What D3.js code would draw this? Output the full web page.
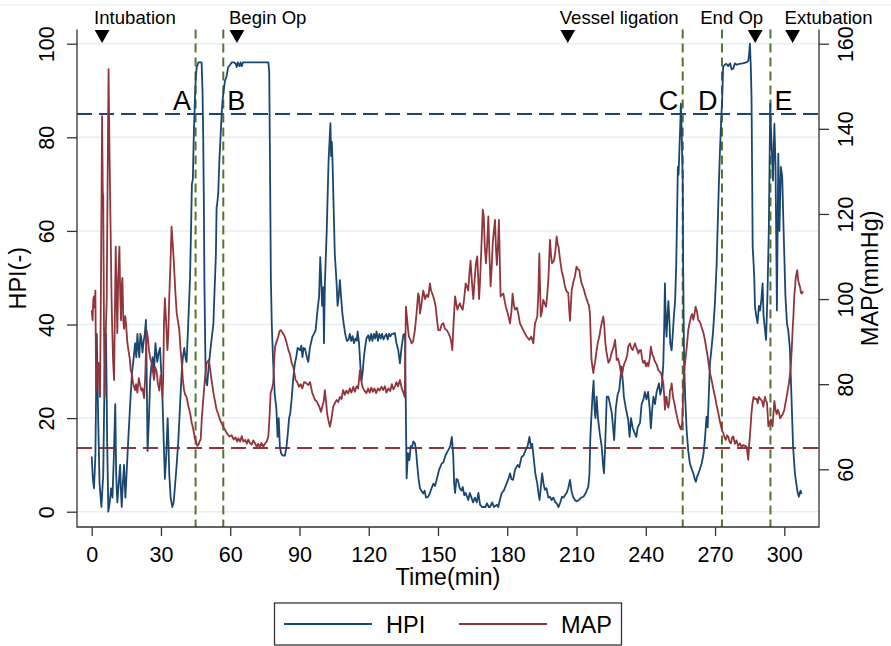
<!DOCTYPE html>
<html>
<head>
<meta charset="utf-8">
<script src="https://cdn.jsdelivr.net/npm/d3@7"></script>
<style>
	body { margin: 0; background: #fff; }
	svg { display: block; font-family: "Liberation Sans", Arial, sans-serif; }
</style>
</head>
<body>
<svg width="891" height="646"></svg>
<script>
// tick values
var xTicks = [0, 30, 60, 90, 120, 150, 180, 210, 240, 270, 300];
var hpiTicks = [0, 20, 40, 60, 80, 100];
var mapTicks = [60, 80, 100, 120, 140, 160];

// thresholds
var hpiThreshold = 85;
var mapThreshold = 65;

// phases A-E (min)
var phaseTimes = [45, 57, 256, 273, 294];
var phaseLabels = ["A", "B", "C", "D", "E"];

// clinical events (min)
var eventTimes = [4.5, 62.9, 206.2, 287.4, 303.6];
var eventLabels = ["Intubation", "Begin Op", "Vessel ligation", "End Op", "Extubation"];
var eventLevel = 102;

// HPI [time(min), value]
var hpi = [[0,11.8],[0.5,7],[1,5],[1.6,12],[2.2,38],[2.8,20],[3.4,6],[4.2,1],[5,8],[5.6,30],[6.2,38],[6.7,15],[7.2,0],[7.8,2],[8.4,5],[9,3],[9.6,12],[10.2,23],[10.6,8],[11.1,2],[11.7,6],[12.3,10],[12.7,4],[13,1],[13.5,6],[14,10],[14.6,3],[15.2,9],[15.9,16],[16.9,25],[17.5,30],[18,32],[18.8,36],[19.3,33],[19.8,38],[20.2,35],[20.6,33],[21.1,38],[21.5,37],[22,34],[22.4,36],[23,38],[23.5,41],[23.8,30],[24.2,13],[24.8,20],[25.3,28],[25.8,31],[26.4,33],[27,30],[27.6,36],[28,34],[28.4,32],[29,34],[29.6,35],[30.1,30],[30.6,25],[31.2,15],[31.7,7],[32.3,12],[32.9,20],[33.3,14],[33.6,8],[34.2,3],[34.9,1],[35.5,2],[36,5],[36.8,10],[37.5,15],[38.2,22],[39,30],[39.5,33],[40.1,35],[40.6,33],[41.1,32],[41.8,40],[42.6,50],[43.1,62],[43.4,70],[43.8,71],[44.2,80],[44.7,88],[45.1,93],[45.5,95],[46.2,96],[47,96],[47.6,96],[48,90],[48.3,80],[48.6,65],[48.8,50],[49.1,38],[49.4,28],[50,27],[50.5,30],[51.5,35],[52.2,38],[52.7,40],[53.2,47],[53.8,55],[54.1,65],[54.4,66],[54.8,68],[55.3,75],[55.8,80],[56.3,85],[56.7,88],[57.2,90],[57.7,92],[58.4,93],[59.1,95],[60,95.5],[60.6,96],[61.5,96],[62.3,95.8],[62.8,95],[63.3,96],[64,95.2],[64.5,96],[65,95.2],[65.5,96],[70,96],[76.5,96],[76.9,94],[77.3,70],[77.6,50],[78,40],[78.6,32],[79.3,25],[80,22],[80.5,16],[81,20],[81.5,14],[82,12.5],[82.7,12],[83.7,12],[84.4,14],[85,17],[85.5,20],[86,21],[86.6,24],[87.2,28],[88,31.7],[88.6,33],[89.2,35],[90.2,34.5],[90.8,35.5],[91.3,33],[91.8,35],[92.4,34.8],[93.2,33],[93.8,32],[94.5,35],[95.6,37.4],[96.3,38],[97,38.8],[97.8,43],[98.5,46],[99,54.4],[99.4,50],[99.8,44],[100.3,48],[100.6,36],[101,48.8],[101.8,60],[102.6,75],[103.1,80],[103.4,83],[103.7,76],[104,79],[104.3,75],[104.8,65],[105.3,55],[106,49.5],[106.5,44],[107,46],[107.5,49.5],[108,46],[108.6,42.3],[109.2,40],[109.8,38],[110.5,36.5],[111.2,36.7],[111.8,38],[112.4,36.5],[113,37.5],[113.6,36],[114.2,37],[114.8,36.5],[115.2,38.5],[115.8,36],[116.4,31],[116.9,28],[117.4,30],[117.9,33],[118.4,35],[119,37],[119.8,37.7],[120.4,36.5],[121,38],[121.6,36.5],[122.2,38],[122.8,37],[123.4,38.5],[124,36.5],[124.6,38],[125.2,37],[125.8,38],[126.4,36.8],[127,37.5],[127.6,38],[128.2,36.8],[128.8,38],[129.4,37.5],[130,38],[130.6,38],[131.3,38.2],[132,36],[132.8,34.5],[133.5,31.7],[134.2,35],[135,37.8],[135.7,38],[136,25],[136.4,7.1],[137,12.5],[137.6,11],[138.2,14],[138.8,13.9],[139.3,15],[140,14.6],[140.5,13],[141,10],[141.6,7],[142.2,5],[142.8,4.5],[143.6,3.9],[144.2,4.5],[144.8,3],[145.8,3.2],[146.5,4],[147.2,5],[148,6],[148.7,5.5],[149.4,6.8],[150,8],[150.5,9],[151.6,10.3],[152.3,10.5],[153.2,12],[154.5,13.2],[155.3,14],[156,16],[156.6,12],[157,6],[157.4,4],[158,7],[158.6,6.8],[159.4,5],[160.2,4.5],[160.7,5.3],[161.4,3.5],[162,4],[163.1,2.5],[163.8,4],[164.5,3],[165.2,2],[166,3],[166.8,2],[167.5,4],[168.2,1.5],[169,1],[170.5,1],[171.2,1.8],[172,1],[172.5,1],[173.5,2],[174.2,1],[175.5,1.5],[176.1,1],[176.8,2.5],[177.6,4],[178.5,4.5],[179.7,6],[180.5,7],[181.2,8.2],[181.8,7],[182.5,6.8],[183.4,9],[184.5,10],[185.2,9.5],[186.2,11.7],[187,12],[188,13.2],[188.8,14],[189.6,16],[190.2,14],[190.8,14.5],[191.7,10.3],[192.2,8],[193,6],[193.5,4],[194,2.5],[194.5,5],[195.1,8.2],[195.7,6],[196.3,4.7],[197,5],[197.8,3],[198.5,3.2],[199.2,2.5],[200,3],[200.8,2],[201.4,1.8],[202.2,1],[203,2],[203.7,3.2],[204.4,3],[205,3.5],[205.7,4],[206.4,5],[207.2,6.8],[207.8,4.5],[208.5,3.2],[209.3,2.5],[210,2.2],[211,2.5],[212,3],[213,3.2],[214,4],[215.1,5.3],[215.6,8],[216,16],[216.4,20],[216.9,24.6],[217.4,28],[217.8,22],[218.2,20],[218.7,24.6],[219.3,20],[220,17],[220.9,13.9],[221.5,10],[221.9,8.2],[222.4,14],[223.1,24.6],[223.8,24.6],[224.5,23],[225.3,21],[226.3,15.3],[227,22],[227.8,25],[228.5,26],[229.5,31],[230.2,27],[230.5,24.6],[231.4,22],[232.4,19.6],[233,16],[233.6,20],[234.3,18],[235,17],[235.9,16],[236.5,18],[237.5,19],[238.2,23],[239,24],[239.6,25.6],[240.3,24],[241,25.6],[241.7,22],[242.2,17.8],[242.8,22],[243.3,24.6],[244,23],[244.7,25.6],[245.7,27.4],[246.3,25],[246.9,26.5],[247.6,31.7],[248,40],[248.3,48.8],[248.7,40],[249,37.4],[249.4,42],[249.8,45],[250.3,40],[250.6,36],[251.2,34.5],[251.7,38],[252.2,42],[252.7,45],[253.2,53],[253.6,64.4],[253.9,73.7],[254.2,72],[254.6,78],[254.9,82],[255.2,87.2],[255.5,82.2],[255.8,75],[256,70.8],[256.2,51.6],[256.6,31.7],[257.1,24],[257.7,17.4],[258.4,13],[259.1,10.3],[260,9],[260.6,8.2],[261.2,7],[261.7,6.4],[262.2,7.5],[262.7,8],[263.4,9],[264.2,10.3],[264.9,12],[265.6,15.3],[266.3,20.3],[266.8,18],[267.3,25],[267.8,31.7],[268.5,35],[269.2,38.8],[270,45],[270.7,53],[271.2,62],[271.7,70.8],[272.2,78],[272.7,84.3],[273.1,88],[273.5,95],[274.2,95.5],[274.9,95.7],[275.7,95.2],[276.5,95.8],[277.2,94.5],[277.9,94.7],[278.6,95.8],[279.3,95.5],[280.5,95.7],[282,95.8],[283.5,96],[284.4,96.3],[284.8,98],[285.1,100],[285.5,95],[285.8,88.6],[286.1,70],[286.3,56.6],[286.7,53],[287,50],[287.3,43.8],[287.8,42],[288.4,40.3],[289,44],[289.5,43],[290,45],[290.6,48.8],[291,42],[291.4,40],[292.1,36.7],[292.7,46.3],[293.3,60.5],[293.9,87.2],[294.2,82],[294.5,78.6],[295.1,70.8],[295.7,82.9],[296.2,74],[296.8,43],[297.4,76.5],[297.9,60],[298.5,73.7],[299.1,71.6],[299.7,60.1],[300.5,45.9],[301.2,40],[301.7,38.8],[302.4,35],[303.1,24.6],[303.8,13.9],[304.6,8.2],[305.2,6],[305.7,4.3],[306.3,3.2],[307,4.5],[307.5,3.8]];

// MAP [time(min), mmHg]
var map = [[0,97.4],[0.4,95],[0.7,100],[1,100.6],[1.3,98],[1.6,102],[1.9,78.6],[2.4,84],[2.9,85],[3.3,80],[3.6,77],[4.1,110],[4.5,143],[4.8,125],[5,124],[5.3,95],[5.6,77],[6,90],[6.5,100],[7,135],[7.3,154],[7.7,135],[8.2,116],[8.6,100],[8.9,92.7],[9.3,85],[9.7,81],[10,95],[10.4,112.3],[10.8,100],[11.1,92],[11.5,105],[12,112.3],[12.4,100],[12.7,95],[13,103],[13.3,105],[13.7,95],[14,93],[14.5,96],[14.9,94],[15.4,90],[15.9,88],[16.5,86],[16.9,83.3],[17.3,82.6],[18,80],[18.8,78.6],[19.2,80],[19.8,78],[20.4,81.4],[20.9,80],[21.5,78.5],[22,79],[22.7,76.7],[23.2,82],[23.8,92.7],[24.3,91],[24.8,88],[25.4,86],[26,84.9],[26.5,83],[27,81],[27.5,84],[28.1,83],[28.7,80],[29.3,78.5],[29.8,82],[30.3,80],[30.7,77],[31,82],[31.3,94],[31.7,100.2],[32.2,95],[32.8,88],[33.2,92],[33.6,100.6],[34.1,108],[34.6,117],[35.1,113],[35.6,108.5],[36.2,102],[36.8,96.8],[37.3,95],[37.9,93],[38.5,88],[39,85],[39.5,81],[40,78.6],[40.5,77.5],[41.1,77],[41.8,75],[42.6,73.3],[43.3,71],[44,69.4],[44.6,67.5],[45.2,66.5],[45.7,65.5],[46.2,65.7],[46.7,66.5],[47.2,67],[47.7,72],[48.4,77],[49,81],[49.8,85],[50.7,85.7],[51.2,84],[51.7,81.8],[52.2,80],[52.7,78],[53.4,76],[54.1,74],[54.8,73],[55.6,71.6],[56.3,70.8],[57,70],[57.7,69.3],[58.5,68.5],[59.6,67.7],[60.6,68],[61.5,67],[62.3,67.5],[63,66.5],[63.5,67.3],[64.3,66.5],[65,67.8],[65.7,66.5],[66.5,66.9],[67.2,66],[67.8,67],[68.6,66.1],[69.3,65.8],[70,66.8],[70.8,66],[71.5,65.3],[72.1,66],[72.8,65.2],[73.5,66.2],[74.3,65.3],[75,66],[75.8,66.5],[76.5,67.7],[77,72],[77.5,77.8],[78.1,79],[78.6,80.2],[79,85],[79.4,88.8],[80.1,90],[80.8,91.2],[81.4,92.5],[82,92.7],[82.7,92],[83.4,91.5],[84.3,90],[85.2,88],[85.9,87],[86.6,85],[87.3,84.1],[88.3,81],[89,80.5],[89.8,79.4],[90.5,80],[91.2,79],[92,80.5],[93,80.2],[93.8,79.8],[94.6,80.5],[95.5,78],[96.7,76.3],[97.4,76],[98.6,74.7],[99.3,73.5],[100,75],[100.5,76],[101,78.6],[101.5,76],[102,73],[102.5,71.6],[103.2,70],[103.9,72],[104.6,74.7],[105.3,75.5],[106.1,76.3],[106.8,75.8],[107.5,77],[108.2,76.5],[108.9,78.6],[109.6,77.5],[110.3,78.5],[111.1,77.8],[111.8,79],[112.5,78],[113.3,79.4],[114,78.2],[114.7,79.5],[115.4,79],[116.2,83.3],[116.7,81],[117.3,79.4],[118.1,78.5],[119,77.9],[119.7,79],[120.4,78],[121.1,79.2],[121.8,78.2],[122.5,79],[123.2,77.9],[124,79],[124.7,78.5],[125.5,79.4],[126.2,78.6],[127,79.5],[127.7,78],[128.5,79],[129.3,78.4],[130,80],[130.7,78.8],[131.4,79.5],[132,80.5],[132.7,79.5],[133.5,81],[134.3,79],[135,78],[135.6,77],[136.1,98.2],[136.5,96],[137,93],[137.4,91.2],[138.1,90.4],[138.5,89.6],[139.2,90],[140,92.7],[140.7,96.6],[141.4,101.3],[141.8,100.6],[142.2,96.6],[142.9,99],[143.6,102],[144.4,100],[145.1,101],[145.8,100.5],[146.5,103.7],[147,102],[147.5,101.3],[148.3,100],[149,98.2],[149.6,95],[150.1,92.7],[150.9,92.7],[151.6,94],[152.3,94.3],[153,93],[153.8,92.7],[154.5,92],[155.2,91.2],[155.7,90],[156.2,88],[156.8,95],[157.4,100.6],[157.9,99],[158.4,97.5],[159,98.5],[159.5,99],[160.1,98],[160.7,97.5],[161.3,100],[162,103.7],[162.5,103],[163.1,102],[163.6,106],[164.1,109],[164.7,104],[165.3,100],[165.8,104],[166.4,108.4],[167,110],[167.4,105],[167.8,100],[168.2,104],[168.5,108],[169,115],[169.4,121],[169.8,119.5],[170.3,112],[170.8,108.4],[171.3,113],[171.8,119.4],[172.3,110],[172.8,103],[173.3,108],[173.7,113],[174.2,116],[174.7,118.6],[175.1,112],[175.5,108],[176,113],[176.4,118.6],[176.8,108],[177.1,100.6],[177.7,101],[178.3,101.3],[178.9,99.5],[179.4,98.2],[180,97],[180.5,96],[181.2,94.3],[181.8,97],[182.3,101.3],[182.9,98.5],[183.4,97.5],[184.2,98],[184.8,96.5],[185.5,94.3],[186.2,93.5],[186.9,92.7],[187.6,92],[188.4,91.2],[189,90.8],[189.6,90.4],[190.4,91.2],[191.3,89.6],[192,94.3],[192.5,95],[193,95.9],[193.5,102],[193.9,110.7],[194.2,103],[194.5,95.9],[195,97],[195.6,99.8],[196.2,99],[196.8,98.2],[197.3,101],[197.8,104.5],[198.2,110],[198.5,113.9],[199,110],[199.4,108.4],[200.2,109],[200.8,111],[201.4,114.7],[201.8,113],[202.2,112.3],[202.7,110],[203.1,108.4],[203.6,106.5],[204.2,105.3],[204.8,103.5],[205.4,102.2],[205.9,101.7],[206.4,101.5],[206.9,97],[207.2,94.9],[207.6,99],[207.9,102],[208.6,104],[209.3,105.3],[210,107.6],[210.6,107],[211.2,106.8],[211.7,105],[212.2,103.7],[212.7,103],[213.2,102.2],[214,100.6],[214.5,99.8],[215,99],[215.4,98.5],[215.8,96.6],[216.2,90],[216.5,85.7],[216.9,84],[217.3,82.6],[217.6,84],[218,85],[218.7,88],[219.3,90],[219.9,91.2],[220.4,93],[220.9,94.3],[221.6,95.9],[222,94],[222.3,91.2],[222.7,88.5],[223.1,87.2],[223.8,85],[224.5,85.7],[225,87],[225.6,88],[226.2,89],[226.7,90.4],[227.1,88],[227.4,85.7],[228,86],[228.5,85],[229,83.5],[229.5,81.8],[230,83],[230.3,84.1],[230.8,85],[231.4,85.7],[232,87],[232.4,88.8],[233.1,89.6],[233.7,88.5],[234.3,88],[235.3,89.6],[236,88.5],[236.8,87.2],[237.3,88],[237.9,88],[238.4,86],[238.9,85],[239.5,85.5],[240.1,84.2],[240.6,85],[241.1,84.2],[241.7,86],[242.2,88.8],[242.8,87],[243.3,86.5],[243.8,85.5],[244.3,85],[244.8,84.5],[245.4,83.3],[246,83],[246.6,82.6],[247.1,81.5],[247.6,80.2],[248,77],[248.3,74],[248.7,77],[249,77],[249.4,75],[249.8,74.5],[250.2,76],[250.5,78.6],[250.9,79],[251.2,80.2],[251.6,78],[251.9,76.7],[252.4,75.5],[252.9,74],[253.5,72.5],[254.1,71],[254.7,70],[255.2,69.4],[255.8,71],[256.1,76],[256.4,81.8],[256.8,84],[257.3,86.5],[257.8,89],[258.4,92.7],[259,94.5],[259.6,95.9],[260.1,96.5],[260.6,95.1],[261.1,96.5],[261.6,98.2],[262.2,97],[262.7,95.1],[263.2,94.8],[263.7,94.3],[264.1,93.5],[264.6,92.7],[265.1,91.8],[265.6,90.4],[266.2,88.5],[266.8,86.5],[267.3,84.5],[267.8,82.6],[268.3,81.5],[268.8,80.2],[269.4,78.5],[270,77],[270.7,75],[271.4,73.3],[272,71.5],[272.6,70.1],[273.1,69],[273.6,68.5],[274.1,67.5],[274.6,66.9],[275.2,68],[275.7,67.7],[276.3,66.5],[276.9,66.1],[277.4,67.5],[277.9,67.7],[278.6,66],[279.3,66.8],[280,65.5],[280.8,66.1],[281.5,65.2],[282.2,65.7],[283,65.5],[283.7,65.3],[284.1,63.5],[284.4,62.2],[284.8,66],[285.1,67.7],[285.5,71],[285.8,73.3],[286.2,75.5],[286.7,77],[287.3,76.5],[288,76.6],[288.5,75.5],[289,77],[289.6,76.5],[290.2,76.2],[290.6,75.5],[290.9,74.7],[291.3,76],[291.6,77],[292,76.2],[292.5,75.6],[292.8,73],[293.1,70.1],[293.6,71],[294.2,71.7],[294.6,70.8],[294.9,70.1],[295.3,73],[295.7,76.1],[296.2,74],[296.7,73],[297.2,74],[297.7,73.3],[298.2,72],[298.8,72.5],[299.4,73],[300,74],[300.5,75.5],[301,77],[301.5,78.6],[302,80.2],[302.5,82.5],[302.9,85],[303.3,89],[303.6,92.7],[304,96.6],[304.3,100.6],[304.7,103],[305,105.3],[305.3,106],[305.6,106.8],[306,104.5],[306.4,103.5],[306.8,102.9],[307.2,101.5],[307.5,101.3],[308.2,101.8]];

var navy = "#1a476f",
	maroon = "#90353b",
	green = "#55752f";

var svg = d3.select("svg");

// plot box
var plotLeft = 77, plotRight = 819, plotTop = 29.5, plotBottom = 527;

var x = d3.scaleLinear().domain([0, 300]).range([91.7, 784.3]);
var yL = d3.scaleLinear().domain([0, 100]).range([511.7, 43.7]);
var yR = d3.scaleLinear().domain([60, 160]).range([469.3, 43.7]);

// faint outer edge
svg.append("line")
	.attr("x1", 0).attr("x2", 891).attr("y1", 5).attr("y2", 5)
	.attr("stroke", "#f0f2f3").attr("stroke-width", 1.5);

// gridlines
svg.append("g").selectAll("line")
	.data(hpiTicks)
	.enter().append("line")
	.attr("x1", plotLeft).attr("x2", plotRight)
	.attr("y1", function(d) { return yL(d); })
	.attr("y2", function(d) { return yL(d); })
	.attr("stroke", "#e6eff1")
	.attr("stroke-width", 1.5);

// threshold lines
svg.append("line")
	.attr("x1", plotLeft).attr("x2", plotRight)
	.attr("y1", yL(hpiThreshold)).attr("y2", yL(hpiThreshold))
	.attr("stroke", navy).attr("stroke-width", 2)
	.attr("stroke-dasharray", "15,7");

svg.append("line")
	.attr("x1", plotLeft).attr("x2", plotRight)
	.attr("y1", yR(mapThreshold)).attr("y2", yR(mapThreshold))
	.attr("stroke", maroon).attr("stroke-width", 2)
	.attr("stroke-dasharray", "15,7");

// phase lines
svg.append("g").selectAll("line")
	.data(phaseTimes)
	.enter().append("line")
	.attr("x1", function(d) { return x(d); })
	.attr("x2", function(d) { return x(d); })
	.attr("y1", plotTop).attr("y2", plotBottom)
	.attr("stroke", green).attr("stroke-width", 2)
	.attr("stroke-dasharray", "9,5");

// series
var hpiLine = d3.line()
	.x(function(d) { return x(d[0]); })
	.y(function(d) { return yL(d[1]); });

var mapLine = d3.line()
	.x(function(d) { return x(d[0]); })
	.y(function(d) { return yR(d[1]); });

svg.append("path")
	.datum(hpi)
	.attr("d", hpiLine)
	.attr("fill", "none")
	.attr("stroke", navy)
	.attr("stroke-width", 1.8)
	.attr("stroke-linejoin", "round");

svg.append("path")
	.datum(map)
	.attr("d", mapLine)
	.attr("fill", "none")
	.attr("stroke", maroon)
	.attr("stroke-width", 1.8)
	.attr("stroke-linejoin", "round");

// axes
var axisColor = "#333";

var xAxis = svg.append("g")
	.attr("transform", "translate(0," + plotBottom + ")")
	.call(d3.axisBottom(x).tickValues(xTicks).tickSize(9).tickPadding(11));

var leftAxis = svg.append("g")
	.attr("transform", "translate(" + plotLeft + ",0)")
	.call(d3.axisLeft(yL).tickValues(hpiTicks).tickSize(10));

var rightAxis = svg.append("g")
	.attr("transform", "translate(" + plotRight + ",0)")
	.call(d3.axisRight(yR).tickValues(mapTicks).tickSize(10));

[xAxis, leftAxis, rightAxis].forEach(function(g) {
	g.select(".domain").remove();
	g.selectAll(".tick line").attr("stroke", axisColor).attr("stroke-width", 1.3);
	g.selectAll(".tick text")
		.attr("fill", "#000")
		.style("font-size", "21.5px")
		.style("font-family", "'Liberation Sans', Arial, sans-serif");
});

leftAxis.selectAll(".tick text")
	.attr("transform", "rotate(-90)")
	.attr("text-anchor", "middle")
	.attr("x", 0).attr("y", -23.5).attr("dy", 0);

rightAxis.selectAll(".tick text")
	.attr("transform", "rotate(-90)")
	.attr("text-anchor", "middle")
	.attr("x", 0).attr("y", 34).attr("dy", 0);

// axis lines
svg.append("path")
	.attr("d", "M" + plotLeft + "," + plotTop + "V" + plotBottom + "H" + plotRight + "V" + plotTop)
	.attr("fill", "none")
	.attr("stroke", axisColor)
	.attr("stroke-width", 1.3);

// axis titles
var midY = (plotTop + plotBottom) / 2;

svg.append("text")
	.attr("x", (plotLeft + plotRight) / 2).attr("y", 585)
	.attr("text-anchor", "middle")
	.style("font-size", "23.5px")
	.text("Time(min)");

svg.append("text")
	.attr("transform", "translate(25.5," + midY + ") rotate(-90)")
	.attr("text-anchor", "middle")
	.style("font-size", "23.5px")
	.text("HPI(-)");

svg.append("text")
	.attr("transform", "translate(878," + midY + ") rotate(-90)")
	.attr("text-anchor", "middle")
	.style("font-size", "23.5px")
	.text("MAP(mmHg)");

// event markers
var tri = d3.symbol().type(d3.symbolTriangle).size(95);

var events = svg.append("g").selectAll("g")
	.data(eventTimes)
	.enter().append("g")
	.attr("transform", function(d) { return "translate(" + x(d) + "," + yL(eventLevel) + ")"; });

events.append("path")
	.attr("d", tri)
	.attr("transform", "rotate(180)")
	.attr("fill", "#000");

events.append("text")
	.attr("x", function(d, i) { return eventLabels[i] === "End Op" ? 8 : -8; })
	.attr("y", -10)
	.attr("text-anchor", function(d, i) { return eventLabels[i] === "End Op" ? "end" : "start"; })
	.style("font-size", "18.6px")
	.text(function(d, i) { return eventLabels[i]; });

// phase letters
var letterSide = ["end", "start", "end", "end", "start"];

svg.append("g").selectAll("text")
	.data(phaseTimes)
	.enter().append("text")
	.attr("x", function(d, i) { return x(d) + (letterSide[i] === "end" ? -4.5 : 4); })
	.attr("y", yL(85.8))
	.attr("text-anchor", function(d, i) { return letterSide[i]; })
	.style("font-size", "27px")
	.text(function(d, i) { return phaseLabels[i]; });

// legend
var legend = svg.append("g");

legend.append("rect")
	.attr("x", 274.5).attr("y", 603)
	.attr("width", 347).attr("height", 42)
	.attr("fill", "#fff")
	.attr("stroke", axisColor)
	.attr("stroke-width", 1.3);

var legendItems = [
	{ name: "HPI", color: navy, x0: 284 },
	{ name: "MAP", color: maroon, x0: 459 }
];

legendItems.forEach(function(d) {
	legend.append("line")
		.attr("x1", d.x0).attr("x2", d.x0 + 88)
		.attr("y1", 624).attr("y2", 624)
		.attr("stroke", d.color).attr("stroke-width", 1.8);
	legend.append("text")
		.attr("x", d.x0 + 102).attr("y", 632.5)
		.style("font-size", "23.5px")
		.text(d.name);
});
</script>
</body>
</html>
